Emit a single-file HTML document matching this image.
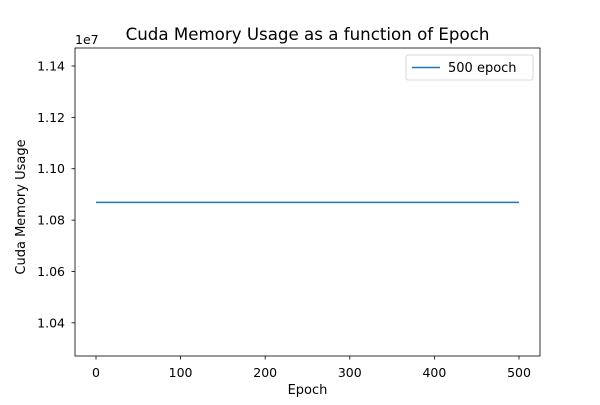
<!DOCTYPE html>
<html><head><meta charset="utf-8"><style>
body{margin:0;background:#fff;}
svg text{font-family:"DejaVu Sans","Liberation Sans",sans-serif;fill:#000;}
</style></head><body>
<svg id="chart" width="600" height="400" viewBox="0 0 600 400">
<rect width="600" height="400" fill="#fff"/>
<text x="307.5" y="40" text-anchor="middle" font-size="16.67">Cuda Memory Usage as a function of Epoch</text>
<g id="xticks"></g>
<g id="yticks"></g>
<text x="75" y="44" font-size="12.5">1e7</text>
<text x="307.5" y="394" text-anchor="middle" font-size="13">Epoch</text>
<text transform="translate(25,207) rotate(-90)" text-anchor="middle" font-size="13">Cuda Memory Usage</text>
<polyline id="line" fill="none" stroke="#1f77b4" stroke-width="1.5"/>
<rect x="75" y="48" width="465" height="308" fill="none" stroke="#000" stroke-width="0.8"/>
<g>
<rect x="406" y="55" width="127" height="25" rx="2" fill="#fff" stroke="#ccc" stroke-width="0.8"/>
<line x1="412" y1="67.5" x2="440" y2="67.5" stroke="#1f77b4" stroke-width="1.5"/>
<text x="448" y="72" font-size="13">500 epoch</text>
</g>
</svg>
<script>
const epochs=[0,100,200,300,400,500];
const memory=[10869000,10869000,10869000,10869000,10869000,10869000];
const xTicks=[0,100,200,300,400,500];
const yTicks=[1.04,1.06,1.08,1.10,1.12,1.14];
const yTickLabels=["1.04","1.06","1.08","1.10","1.12","1.14"];
const NS="http://www.w3.org/2000/svg";
function xs(v){return 96+(v-0)*(519-96)/500;}
function ys(v){return 356-(v-1.0271e7)*308/(1.1470e7-1.0271e7);}
const xg=document.getElementById('xticks'),yg=document.getElementById('yticks');
xTicks.forEach(t=>{const x=xs(t);
const l=document.createElementNS(NS,'line');l.setAttribute('x1',x);l.setAttribute('x2',x);l.setAttribute('y1',356);l.setAttribute('y2',359.5);l.setAttribute('stroke','#000');l.setAttribute('stroke-width','0.8');


xg.appendChild(l);
const tx=document.createElementNS(NS,'text');tx.setAttribute('x',x);tx.setAttribute('y',377);tx.setAttribute('text-anchor','middle');tx.setAttribute('font-size','12.5');tx.textContent=t;


xg.appendChild(tx);});
yTicks.forEach((t,i)=>{const y=ys(t*1e7);
const l=document.createElementNS(NS,'line');l.setAttribute('x1',71.5);l.setAttribute('x2',75);l.setAttribute('y1',y);l.setAttribute('y2',y);l.setAttribute('stroke','#000');l.setAttribute('stroke-width','0.8');


yg.appendChild(l);
const tx=document.createElementNS(NS,'text');tx.setAttribute('x',65);tx.setAttribute('y',y+4.5);tx.setAttribute('text-anchor','end');tx.setAttribute('font-size','12.5');tx.textContent=yTickLabels[i];


yg.appendChild(tx);});
document.getElementById('line').setAttribute('points',epochs.map((e,i)=>xs(e)+','+ys(memory[i])).join(' '));
</script>
</body></html>
